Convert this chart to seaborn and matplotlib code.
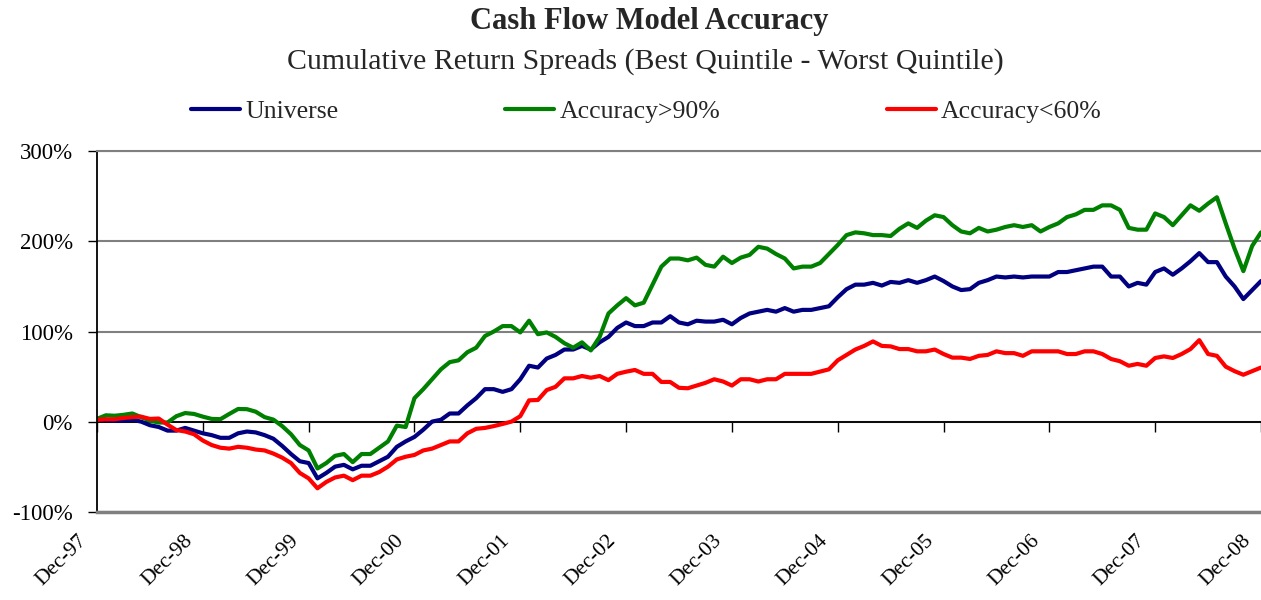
import numpy as np
import pandas as pd
import seaborn as sns
import matplotlib.pyplot as plt
from matplotlib.ticker import FuncFormatter
from matplotlib.transforms import ScaledTranslation

# monthly cumulative return spreads (%), Dec-97 .. Dec-08
universe = [2, 2, 1, 1, 2, 0, -4, -6, -10, -10, -7, -10, -13, -15, -18, -18, -13, -11, -12, -15, -19, -27,
            -36, -44, -46, -63, -57, -50, -48, -53, -49, -49, -44, -39, -28, -22, -17, -9, 0, 2, 9, 9,
            18, 26, 36, 36, 33, 36, 47, 62, 60, 70, 74, 80, 80, 84, 80, 88, 94, 104,
            110, 106, 106, 110, 110, 117, 110, 108, 112,
            111, 111, 113, 108, 115, 120, 122, 124, 122, 126, 122, 124, 124, 126, 128, 138, 147, 152, 152, 154, 151,
            155, 154, 157, 154, 157, 161, 156, 150, 146, 147, 154, 157, 161, 160, 161, 160, 161, 161, 161,
            166, 166, 168, 170, 172, 172, 161, 161, 150, 154, 152, 166, 170, 163, 170, 178, 187, 177, 177, 161,
            150, 136, 146, 156]
acc_high = [3, 7, 6.5, 7.5, 9, 5, 1, -1, -1, 6, 9.5, 8.5, 5.5, 3, 2.7, 8.5, 14, 13.8, 11, 5, 2.2, -5,
            -14, -26, -32, -52, -46, -38, -36, -45, -36, -36, -29, -22, -4.5, -6, 26, 36, 47, 58, 66, 68,
            77, 82, 95, 100,
            106, 106, 99, 112, 97, 99, 94, 87, 82, 88, 79, 94, 120, 129, 137, 129, 132, 152, 172, 181, 181, 179, 182,
            174, 172, 183, 176, 182, 185, 194, 192, 186, 181, 170, 172, 172, 176, 186, 196, 207, 210, 209, 207, 207,
            206, 214, 220, 215, 223, 229, 227, 218, 211, 209, 215, 211, 213, 216, 218, 216, 218, 211, 216,
            220, 227, 230, 235, 235, 240, 240, 235, 215, 213, 213, 231, 227, 218, 229, 240, 234, 242, 249, 220,
            192, 167, 195, 210]
acc_low = [2, 2.6, 2.6, 4, 5, 5.5, 3, 3.4, -3.4, -9.4, -11, -14, -21, -26, -29, -30, -28, -29, -31, -32, -35.5, -40,
           -46, -57, -63, -74, -67, -62, -60, -65, -60, -60, -56, -50, -42, -39, -37, -32, -30, -26, -22, -22,
           -13, -8, -7, -5, -2.6, 0, 6, 23.6, 24, 35, 38.6, 48, 48, 50.6, 48.7, 50.6, 46, 53, 55.4, 57.3, 53, 53,
           44, 44, 37.5, 37,
           40, 43, 47, 44.5, 40, 47, 47, 44.5, 47, 47, 53, 53, 53, 53, 55.5, 58, 68, 74, 80, 84, 89, 84, 83.5,
           80.5, 80.5, 78, 78, 80, 75, 71, 71, 69.5, 73, 74, 78, 76, 76, 73, 78, 78, 78,
           78, 75, 75, 78, 78, 75, 69.5, 67, 62, 64, 62, 70.6, 72.4, 70.6, 75, 80.5, 90.4, 75, 73, 61,
           56, 52, 56, 60]

series_names = ["Universe", "Accuracy>90%", "Accuracy<60%"]
tick_labels = ["Dec-97", "Dec-98", "Dec-99", "Dec-00", "Dec-01", "Dec-02",
               "Dec-03", "Dec-04", "Dec-05", "Dec-06", "Dec-07", "Dec-08"]
y_ticks = [-100, 0, 100, 200, 300]
colors = ["#000080", "#008000", "#FF0000"]

months = np.arange(len(universe))
df = pd.DataFrame({
    "month": np.tile(months, 3),
    "spread": universe + acc_high + acc_low,
    "series": np.repeat(series_names, len(months)),
})

sns.set_theme(style="white")
plt.rcParams["font.family"] = ["Liberation Serif", "DejaVu Serif"]

W, H = 1261, 600
fig = plt.figure(figsize=(W / 100, H / 100), dpi=100)
ax = fig.add_axes([97 / W, 88.3 / H, 1164 / W, 360.4 / H])

sns.lineplot(data=df, x="month", y="spread", hue="series", hue_order=series_names,
             palette=dict(zip(series_names, colors)), linewidth=3, ax=ax, legend=False)

ax.set_xlim(0, 132)
ax.set_ylim(-100, 300)
ax.set_xlabel("")
ax.set_ylabel("")

# gridlines + black zero line
ax.set_axisbelow(True)
ax.yaxis.grid(True, color="#808080", linewidth=1.5)
ax.axhline(0, color="black", linewidth=1.3, zorder=1.5)

ax.spines["right"].set_visible(False)
ax.spines["left"].set_color("black")
ax.spines["left"].set_linewidth(1.3)
ax.spines["top"].set_color("#808080")
ax.spines["top"].set_linewidth(1.5)
ax.spines["bottom"].set_color("#808080")
ax.spines["bottom"].set_linewidth(2.5)

ax.set_yticks(y_ticks)
ax.yaxis.set_major_formatter(FuncFormatter(lambda v, p: f"{v:.0f}%"))
ax.tick_params(axis="y", left=True, direction="out", length=6.5, width=1, color="black",
               labelsize=16.5, pad=11, labelcolor="black")

# category labels at the bottom, tick marks on the zero line
xt = months[::12]
ax.set_xticks(xt)
ax.set_xticklabels(tick_labels, rotation=45, ha="right", va="top", fontsize=15.5)
ax.tick_params(axis="x", bottom=True, length=0, pad=14, labelcolor="black")
shift = ScaledTranslation(-6 / 100, 0, fig.dpi_scale_trans)
for lab in ax.get_xticklabels():
    lab.set_transform(lab.get_transform() + shift)

secax = ax.secondary_xaxis(0.25)
secax.set_xticks(xt)
secax.tick_params(axis="x", bottom=True, direction="out", length=7, width=1,
                  color="black", labelbottom=False)
secax.spines["bottom"].set_visible(False)

fig.text(649 / W, 1 - 29 / H, "Cash Flow Model Accuracy", ha="center", va="baseline",
         fontsize=22, fontweight="bold")
fig.text(645 / W, 1 - 69 / H, "Cumulative Return Spreads (Best Quintile - Worst Quintile)",
         ha="center", va="baseline", fontsize=21.5)

handles = ax.get_lines()[:3]
fig.legend(handles, series_names, loc="center", bbox_to_anchor=(646.5 / W, 1 - 112 / H),
           ncol=3, frameon=False, fontsize=18.5, handlelength=1.9, handletextpad=0.2,
           columnspacing=6.5)

fig.savefig("out.png", dpi=100)
